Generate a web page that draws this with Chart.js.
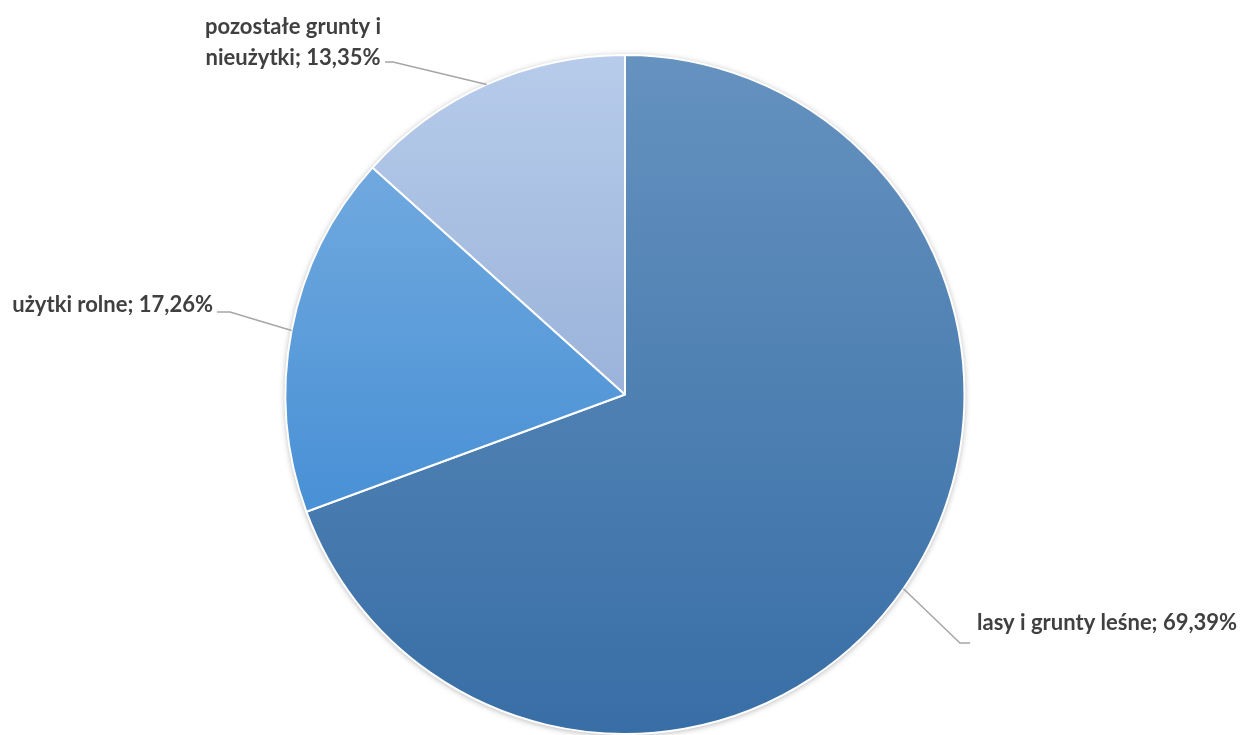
<!DOCTYPE html>
<html>
<head>
<meta charset="utf-8">
<script src="https://cdn.jsdelivr.net/npm/chart.js@4/dist/chart.umd.min.js"></script>
<style>
  html, body { margin: 0; padding: 0; background: #fff; }
  #wrap { width: 1245px; height: 735px; }
</style>
</head>
<body>
<div id="wrap"><canvas id="myChart" width="1245" height="735"></canvas></div>
<script>
// dane z wykresu
const categories = ["lasy i grunty leśne", "użytki rolne", "pozostałe grunty i nieużytki"];
const values = [69.39, 17.26, 13.35];
const valueText = ["69,39%", "17,26%", "13,35%"];

// kolory (gradient góra -> dół dla każdego wycinka)
const topColors = ["#6592bf", "#70a9df", "#b7cceb"];
const bottomColors = ["#386ea6", "#4890d5", "#9bb3da"];

// położenie etykiet: punkt załamania linii, koniec linii, tekst
const labelLayout = [
    { elbow: [960, 643], end: [970, 643], lines: [categories[0] + "; " + valueText[0]], x: 977, y: 623, align: "left" },
    { elbow: [230, 312], end: [217, 312], lines: [categories[1] + "; " + valueText[1]], x: 213, y: 305, align: "right" },
    { elbow: [393, 62], end: [385, 62], lines: ["pozostałe grunty i", "nieużytki; " + valueText[2]], x: 293, y: 27, align: "center" }
];

const total = values.reduce((a, b) => a + b, 0);

function sliceGradient(context) {
    const i = context.dataIndex;
    const chart = context.chart;
    const area = chart.chartArea;
    if (!area) return topColors[i];
    const cx = (area.left + area.right) / 2;
    const cy = (area.top + area.bottom) / 2;
    const r = Math.min(area.right - area.left, area.bottom - area.top) / 2;
    let before = 0;
    for (let k = 0; k < i; k++) before += values[k];
    const a0 = -Math.PI / 2 + before / total * 2 * Math.PI;
    const a1 = a0 + values[i] / total * 2 * Math.PI;
    let minY = cy, maxY = cy;
    for (let s = 0; s <= 60; s++) {
        const a = a0 + (a1 - a0) * s / 60;
        const y = cy + r * Math.sin(a);
        minY = Math.min(minY, y);
        maxY = Math.max(maxY, y);
    }
    const g = chart.ctx.createLinearGradient(0, minY, 0, maxY);
    g.addColorStop(0, topColors[i]);
    g.addColorStop(1, bottomColors[i]);
    return g;
}

// cień pod kołem
const shadowPlugin = {
    id: "pieShadow",
    beforeDatasetsDraw(chart) {
        const arc = chart.getDatasetMeta(0).data[0];
        if (!arc) return;
        const ctx = chart.ctx;
        ctx.save();
        ctx.shadowColor = "rgba(0,0,0,0.35)";
        ctx.shadowBlur = 6;
        ctx.shadowOffsetX = 0;
        ctx.shadowOffsetY = 1;
        ctx.beginPath();
        ctx.arc(arc.x, arc.y, arc.outerRadius, 0, Math.PI * 2);
        ctx.fillStyle = "#ffffff";
        ctx.fill();
        ctx.restore();
    }
};

// etykiety z liniami odniesienia
const labelPlugin = {
    id: "leaderLabels",
    afterDatasetsDraw(chart) {
        const ctx = chart.ctx;
        const arcs = chart.getDatasetMeta(0).data;
        ctx.save();
        arcs.forEach((arc, i) => {
            const L = labelLayout[i];
            const mid = (arc.startAngle + arc.endAngle) / 2;
            const sx = arc.x + arc.outerRadius * Math.cos(mid);
            const sy = arc.y + arc.outerRadius * Math.sin(mid);
            ctx.strokeStyle = "#a6a6a6";
            ctx.lineWidth = 1.5;
            ctx.beginPath();
            ctx.moveTo(sx, sy);
            ctx.lineTo(L.elbow[0], L.elbow[1]);
            ctx.lineTo(L.end[0], L.end[1]);
            ctx.stroke();

            ctx.fillStyle = "#404040";
            ctx.font = "bold 22px Lato";
            ctx.textAlign = L.align;
            ctx.textBaseline = "middle";
            L.lines.forEach((t, j) => ctx.fillText(t, L.x, L.y + j * 31));
        });
        ctx.restore();
    }
};

new Chart(document.getElementById("myChart"), {
    type: "pie",
    data: {
        labels: categories,
        datasets: [{
            data: values,
            backgroundColor: sliceGradient,
            borderColor: "#ffffff",
            borderWidth: 2
        }]
    },
    options: {
        responsive: false,
        animation: false,
        layout: { padding: { top: 54, left: 5, right: 0, bottom: 0 } },
        plugins: {
            legend: { display: false },
            tooltip: { enabled: false }
        }
    },
    plugins: [shadowPlugin, labelPlugin]
});
</script>
</body>
</html>
